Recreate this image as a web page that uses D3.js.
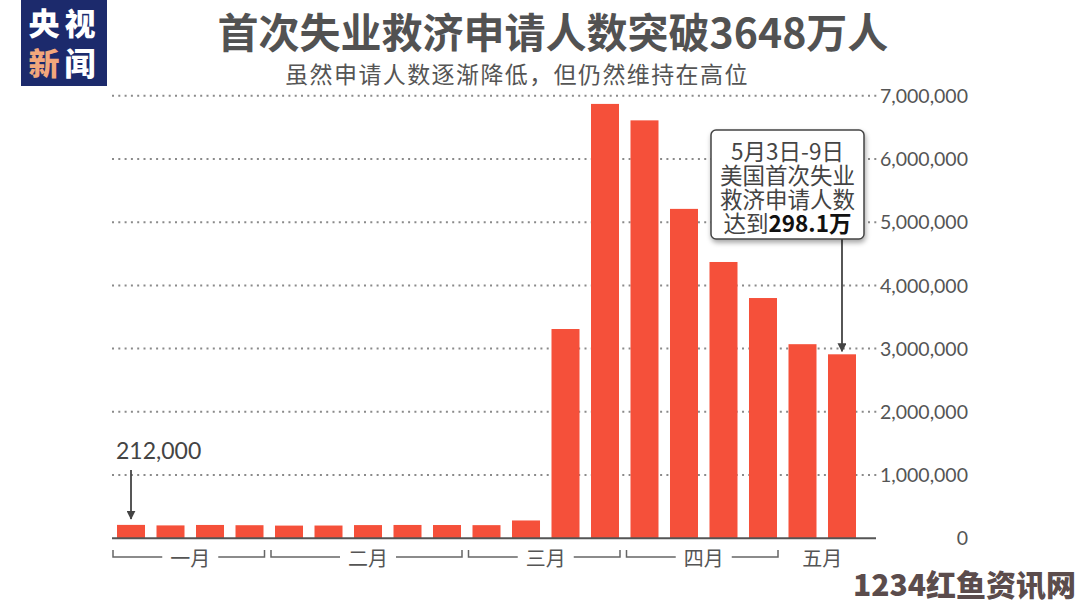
<!DOCTYPE html>
<html>
<head>
<meta charset="utf-8">
<script src="https://cdn.jsdelivr.net/npm/d3@7"></script>
<style>
  html, body { margin: 0; padding: 0; background: #fff; }
  svg { display: block; }
</style>
</head>
<body>
<svg id="chart" width="1080" height="607"></svg>
<script>
// ---- data ----
const weeks = ["1/4","1/11","1/18","1/25","2/1","2/8","2/15","2/22","2/29","3/7","3/14","3/21","3/28","4/4","4/11","4/18","4/25","5/2","5/9"];
const claims = [212000, 204000, 211000, 207000, 201000, 202000, 209000, 211000, 210000, 208000, 282000, 3310000, 6870000, 6610000, 5210000, 4370000, 3800000, 3070000, 2910000];
const months = ["一月","二月","三月","四月","五月"];
const monthWeekCounts = [4, 5, 4, 4, 2];
const yTicks = [0, 1000000, 2000000, 3000000, 4000000, 5000000, 6000000, 7000000];
const titleText = "首次失业救济申请人数突破3648万人";
const subtitleText = "虽然申请人数逐渐降低，但仍然维持在高位";
const firstLabel = "212,000";
const noteLines = ["5月3日-9日", "美国首次失业", "救济申请人数"];
const notePrefix = "达到";
const noteBold = "298.1万";
const watermark = "1234红鱼资讯网";

// ---- setup ----
const svg = d3.select("#chart");
const cjk = "'Noto Sans CJK SC', 'Noto Sans', sans-serif";
const num = "Lato, 'Noto Sans', sans-serif";
const textColor = "#555";
const barColor = "#f5503a";

const defs = svg.append("defs");
const f = defs.append("filter").attr("id", "shadow").attr("x", "-20%").attr("y", "-20%").attr("width", "140%").attr("height", "150%");
f.append("feDropShadow").attr("dx", 1).attr("dy", 3).attr("stdDeviation", 2.5).attr("flood-color", "#000").attr("flood-opacity", 0.35);
const mk = defs.append("marker").attr("id", "arrow").attr("viewBox", "0 0 10 10").attr("refX", 9).attr("refY", 5)
  .attr("markerWidth", 5).attr("markerHeight", 5).attr("orient", "auto").attr("markerUnits", "strokeWidth");
mk.append("path").attr("d", "M0,0 L10,5 L0,10 z").attr("fill", "#444");

const x = d3.scaleBand().domain(weeks).range([117, 856]).paddingInner(0.291).paddingOuter(0);
const y = d3.scaleLinear().domain([0, 7000000]).range([538.3, 95.7]);

// logo
svg.append("rect").attr("x", 21).attr("y", 0).attr("width", 86).attr("height", 86).attr("fill", "#1c2a6c");
[["央", 44, 21, "#fff"], ["视", 80, 21, "#fff"], ["新", 44, 61, "#f2a77c"], ["闻", 80, 61, "#fff"]].forEach(([t, cx, cy, c]) => {
  svg.append("text").attr("x", cx).attr("y", cy).attr("text-anchor", "middle").attr("dominant-baseline", "central")
    .attr("font-family", cjk).attr("font-weight", 900).attr("font-size", 31).attr("fill", c).text(t);
});

// title
svg.append("text").attr("x", 553).attr("y", 30).attr("text-anchor", "middle").attr("dominant-baseline", "central")
  .attr("font-family", cjk).attr("font-weight", 700).attr("font-size", 41).attr("fill", "#525252").text(titleText);
svg.append("text").attr("x", 517).attr("y", 73).attr("text-anchor", "middle").attr("dominant-baseline", "central")
  .attr("font-family", cjk).attr("font-weight", 400).attr("font-size", 23).attr("letter-spacing", 1.4).attr("fill", textColor).text(subtitleText);

// gridlines
svg.append("g").selectAll("line").data(yTicks.filter(d => d > 0)).join("line")
  .attr("x1", 112).attr("x2", 877).attr("y1", d => y(d)).attr("y2", d => y(d))
  .attr("stroke", "#8a8a8a").attr("stroke-width", 2).attr("stroke-dasharray", "2,4.3");

// y axis labels via d3 axis
const yAxis = d3.axisRight(y).tickValues(yTicks).tickSize(0).tickFormat(d3.format(","));
const ya = svg.append("g").attr("transform", "translate(968,0)").call(yAxis);
ya.select(".domain").remove();
ya.selectAll("text").attr("x", 0).attr("text-anchor", "end").attr("font-family", num).attr("font-size", 19.5).attr("fill", textColor).attr("dy", "0.34em");

// bars
svg.append("g").selectAll("rect").data(claims).join("rect")
  .attr("x", (d, i) => x(weeks[i])).attr("width", x.bandwidth())
  .attr("y", d => y(d)).attr("height", d => y(0) - y(d)).attr("fill", barColor);

// baseline
svg.append("line").attr("x1", 112).attr("x2", 876).attr("y1", y(0)).attr("y2", y(0)).attr("stroke", "#555").attr("stroke-width", 2);

// month brackets
let idx = 0;
const by = 557;
months.forEach((m, k) => {
  const first = weeks[idx], last = weeks[idx + monthWeekCounts[k] - 1];
  idx += monthWeekCounts[k];
  const x0 = x(first) - 4, x1 = x(last) + x.bandwidth() + 1;
  const cx = (x(first) + x(last) + x.bandwidth()) / 2;
  const g = svg.append("g");
  if (k < months.length - 1) {
    const half = 28;
    g.append("path").attr("d", `M${x0},${by - 7}V${by}H${cx - half}M${cx + half},${by}H${x1}V${by - 7}`)
      .attr("fill", "none").attr("stroke", "#666").attr("stroke-width", 1.5);
  }
  g.append("text").attr("x", cx).attr("y", by).attr("text-anchor", "middle").attr("dominant-baseline", "central")
    .attr("font-family", cjk).attr("font-size", 20).attr("fill", textColor).text(m);
});

// first bar annotation
const c1 = x(weeks[0]) + x.bandwidth() / 2;
svg.append("text").attr("x", 116).attr("y", 450).attr("dominant-baseline", "central")
  .attr("font-family", num).attr("font-size", 23).attr("fill", "#444").text(firstLabel);
svg.append("line").attr("x1", c1).attr("x2", c1).attr("y1", 470).attr("y2", y(claims[0]) - 6)
  .attr("stroke", "#444").attr("stroke-width", 1.8).attr("marker-end", "url(#arrow)");

// last bar annotation
const cl = x(weeks[weeks.length - 1]) + x.bandwidth() / 2;
svg.append("line").attr("x1", cl).attr("x2", cl).attr("y1", 239).attr("y2", y(claims[claims.length - 1]) - 3)
  .attr("stroke", "#444").attr("stroke-width", 1.8).attr("marker-end", "url(#arrow)");
const bx = 711, bw = 153, byy = 130, bh = 109;
svg.append("rect").attr("x", bx).attr("y", byy).attr("width", bw).attr("height", bh).attr("rx", 5)
  .attr("fill", "#fff").attr("stroke", "#444").attr("stroke-width", 1.5).attr("filter", "url(#shadow)");
const tcx = bx + bw / 2;
noteLines.forEach((t, i) => {
  svg.append("text").attr("x", tcx).attr("y", 150 + i * 24).attr("text-anchor", "middle").attr("dominant-baseline", "central")
    .attr("font-family", cjk).attr("font-size", 22.5).attr("fill", "#444").text(t);
});
const lastT = svg.append("text").attr("x", tcx).attr("y", 150 + 3 * 24).attr("text-anchor", "middle").attr("dominant-baseline", "central")
  .attr("font-family", cjk).attr("font-size", 22.5).attr("fill", "#444");
lastT.append("tspan").text(notePrefix);
lastT.append("tspan").attr("font-weight", 700).attr("fill", "#111").text(noteBold);

// watermark
svg.append("text").attr("x", 1076).attr("y", 583).attr("text-anchor", "end").attr("dominant-baseline", "central")
  .attr("font-family", cjk).attr("font-weight", 900).attr("font-size", 30).attr("fill", "#5b4c4c").text(watermark);
</script>
</body>
</html>
